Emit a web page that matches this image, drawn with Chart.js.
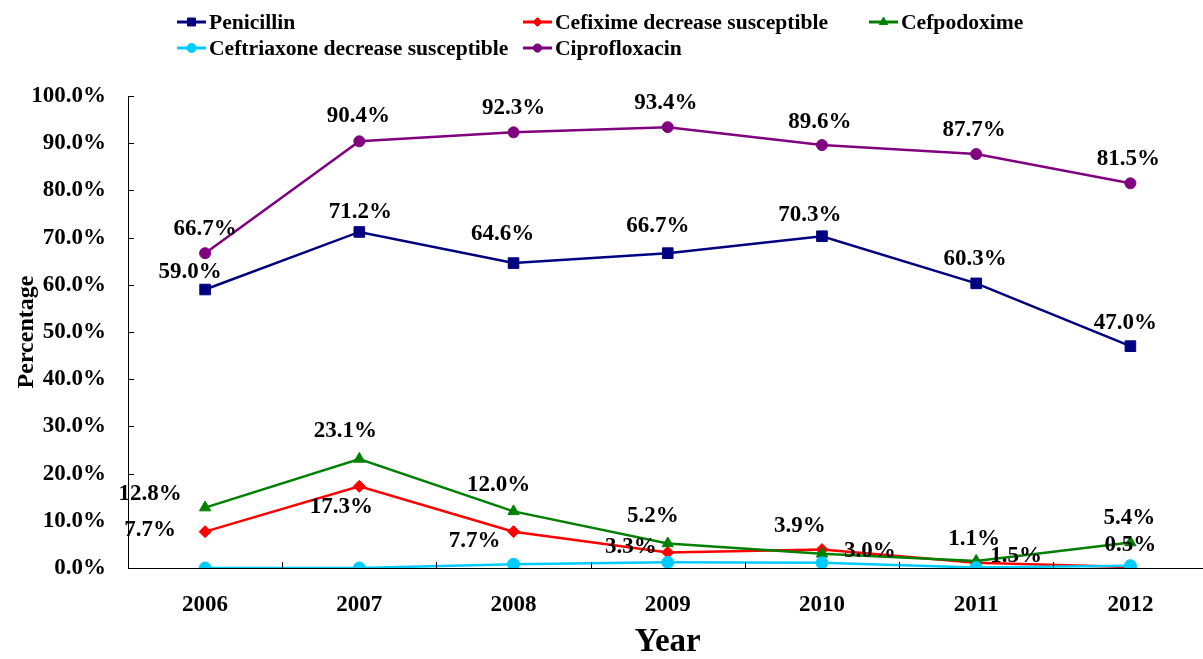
<!DOCTYPE html>
<html>
<head>
<meta charset="utf-8">
<script src="https://cdn.jsdelivr.net/npm/chart.js@4.4.0/dist/chart.umd.min.js"></script>
<style>
  html, body { margin: 0; padding: 0; background: #fff; overflow: hidden; }
  #wrap { width: 1216px; height: 659px; }
</style>
</head>
<body>
<div id="wrap"><canvas id="chart" width="1216" height="659"></canvas></div>
<script>
const years = ['2006', '2007', '2008', '2009', '2010', '2011', '2012'];
const penicillin    = [59.0, 71.2, 64.6, 66.7, 70.3, 60.3, 47.0];
const cefixime      = [7.7, 17.3, 7.7, 3.3, 3.9, 1.1, 0.2];
const cefpodoxime   = [12.8, 23.1, 12.0, 5.2, 3.0, 1.5, 5.4];
const ceftriaxone   = [0.0, 0.0, 0.8, 1.2, 1.1, 0.1, 0.5];
const ciprofloxacin = [66.7, 90.4, 92.3, 93.4, 89.6, 87.7, 81.5];
const yTicks = [0, 10, 20, 30, 40, 50, 60, 70, 80, 90, 100];

// which points carry a value label
const penicillinShown    = [1, 1, 1, 1, 1, 1, 1];
const cefiximeShown      = [1, 1, 1, 1, 1, 1, 0];
const cefpodoximeShown   = [1, 1, 1, 1, 1, 1, 1];
const ceftriaxoneShown   = [0, 0, 0, 0, 0, 0, 1];
const ciprofloxacinShown = [1, 1, 1, 1, 1, 1, 1];

const FONT = '"Liberation Serif", "Times New Roman", serif';

// label placement relative to its point (px)
const labelOffsets = [
  [[-15, -17], [1, -20], [-11, -29], [-10, -27], [-12, -21], [-1, -24], [-5, -23]],
  [[-55, -2], [-18, 21], [-39, 9], [-37, -5], [-22, -24], [-2, -24], [0, 0]],
  [[-55, -14], [-14, -28], [-15, -26], [-15, -27], [48, -3], [40, -5], [-1, -24]],
  [[0, 0], [0, 0], [0, 0], [0, 0], [0, 0], [0, 0], [0, -21]],
  [[0, -24], [-1, -25], [0, -24], [-2, -24], [-2, -23], [-2, -24], [-2, -24]]
];

const valueLabels = {
  id: 'valueLabels',
  afterDatasetsDraw(chart) {
    const ctx = chart.ctx;
    ctx.save();
    ctx.font = 'bold 23px ' + FONT;
    ctx.fillStyle = '#000';
    ctx.textAlign = 'center';
    ctx.textBaseline = 'middle';
    chart.data.datasets.forEach((ds, di) => {
      const meta = chart.getDatasetMeta(di);
      meta.data.forEach((pt, i) => {
        if (!ds.shown[i]) return;
        const off = labelOffsets[di][i];
        ctx.fillText(ds.data[i].toFixed(1) + '%', pt.x + off[0], pt.y + off[1]);
      });
    });
    ctx.restore();
  }
};

// inside tick marks, Excel style
const innerTicks = {
  id: 'innerTicks',
  afterDraw(chart) {
    const { ctx, scales: { x, y }, chartArea } = chart;
    ctx.save();
    ctx.strokeStyle = '#000';
    ctx.lineWidth = 1;
    ctx.beginPath();
    yTicks.forEach(v => {
      const py = Math.round(y.getPixelForValue(v)) + 0.5;
      ctx.moveTo(chartArea.left, py);
      ctx.lineTo(chartArea.left + 6, py);
    });
    for (let i = 0; i <= years.length; i++) {
      const a = i === 0 ? chartArea.left : x.getPixelForValue(i - 1);
      const b = i === years.length ? chartArea.right : x.getPixelForValue(i);
      const px = Math.round(i === 0 ? a : i === years.length ? b : (a + b) / 2) + 0.5;
      ctx.moveTo(px, chartArea.bottom);
      ctx.lineTo(px, chartArea.bottom - 6);
    }
    ctx.stroke();
    ctx.restore();
  }
};

const legendCols = [177, 523, 869];
const legendRows = [22, 48];
const seriesLegend = {
  id: 'seriesLegend',
  afterDraw(chart) {
    const ctx = chart.ctx;
    ctx.save();
    ctx.font = 'bold 21.6px ' + FONT;
    ctx.textAlign = 'left';
    ctx.textBaseline = 'middle';
    chart.data.datasets.forEach((ds, i) => {
      const x0 = legendCols[i % 3];
      const y0 = legendRows[Math.floor(i / 3)];
      ctx.strokeStyle = ds.borderColor;
      ctx.lineWidth = 3;
      ctx.beginPath();
      ctx.moveTo(x0, y0);
      ctx.lineTo(x0 + 29, y0);
      ctx.stroke();
      ctx.fillStyle = ds.backgroundColor;
      ctx.strokeStyle = ds.borderColor;
      ctx.lineWidth = 1;
      Chart.helpers.drawPoint(ctx, { pointStyle: ds.pointStyle, radius: ds.pointRadius * 0.75, rotation: 0, borderWidth: 1 }, x0 + 14.5, y0);
      ctx.fillStyle = '#000';
      ctx.fillText(ds.label, x0 + 32, y0 + 1);
    });
    ctx.restore();
  }
};

function series(label, data, shown, color, style, radius, order) {
  return {
    label, data, shown, order,
    borderColor: color, backgroundColor: color,
    pointBackgroundColor: color, pointBorderColor: color,
    borderWidth: 2.5, pointStyle: style, pointRadius: radius, pointHoverRadius: radius,
    pointBorderWidth: 1, tension: 0, fill: false
  };
}

new Chart(document.getElementById('chart'), {
  type: 'line',
  data: {
    labels: years,
    datasets: [
      series('Penicillin', penicillin, penicillinShown, '#000080', 'rect', 7.5, 5),
      series('Cefixime decrease susceptible', cefixime, cefiximeShown, '#FF0000', 'rectRot', 6, 4),
      series('Cefpodoxime', cefpodoxime, cefpodoximeShown, '#008000', 'triangle', 6.5, 3),
      series('Ceftriaxone decrease susceptible', ceftriaxone, ceftriaxoneShown, '#00CCFF', 'circle', 6, 2),
      series('Ciprofloxacin', ciprofloxacin, ciprofloxacinShown, '#800080', 'circle', 5.5, 1)
    ]
  },
  options: {
    responsive: false,
    animation: false,
    events: [],
    layout: { padding: { top: 96, right: 3, left: 0, bottom: 0 } },
    plugins: { legend: { display: false }, tooltip: { enabled: false } },
    scales: {
      x: {
        offset: true,
        grid: { display: false, drawTicks: false },
        border: { display: true, color: '#000', width: 1 },
        ticks: { color: '#000', padding: 23, font: { family: FONT, size: 23, weight: 'bold' } },
        title: { display: true, text: 'Year', color: '#000', padding: { top: 0, bottom: 0 },
                 font: { family: FONT, size: 33, weight: 'bold', lineHeight: 1 } },
        afterFit: s => { s.height = 91; }
      },
      y: {
        min: 0, max: 100,
        grid: { display: false, drawTicks: false },
        border: { display: true, color: '#000', width: 1 },
        afterBuildTicks: s => { s.ticks = yTicks.map(v => ({ value: v })); },
        ticks: { color: '#000', padding: 22, font: { family: FONT, size: 23, weight: 'bold' },
                 callback: v => Number(v).toFixed(1) + '%' },
        title: { display: true, text: 'Percentage', color: '#000', padding: { top: 15, bottom: 0 },
                 font: { family: FONT, size: 24, weight: 'bold', lineHeight: 1 } },
        afterFit: s => { s.width = 128; }
      }
    }
  },
  plugins: [valueLabels, innerTicks, seriesLegend]
});
</script>
</body>
</html>
